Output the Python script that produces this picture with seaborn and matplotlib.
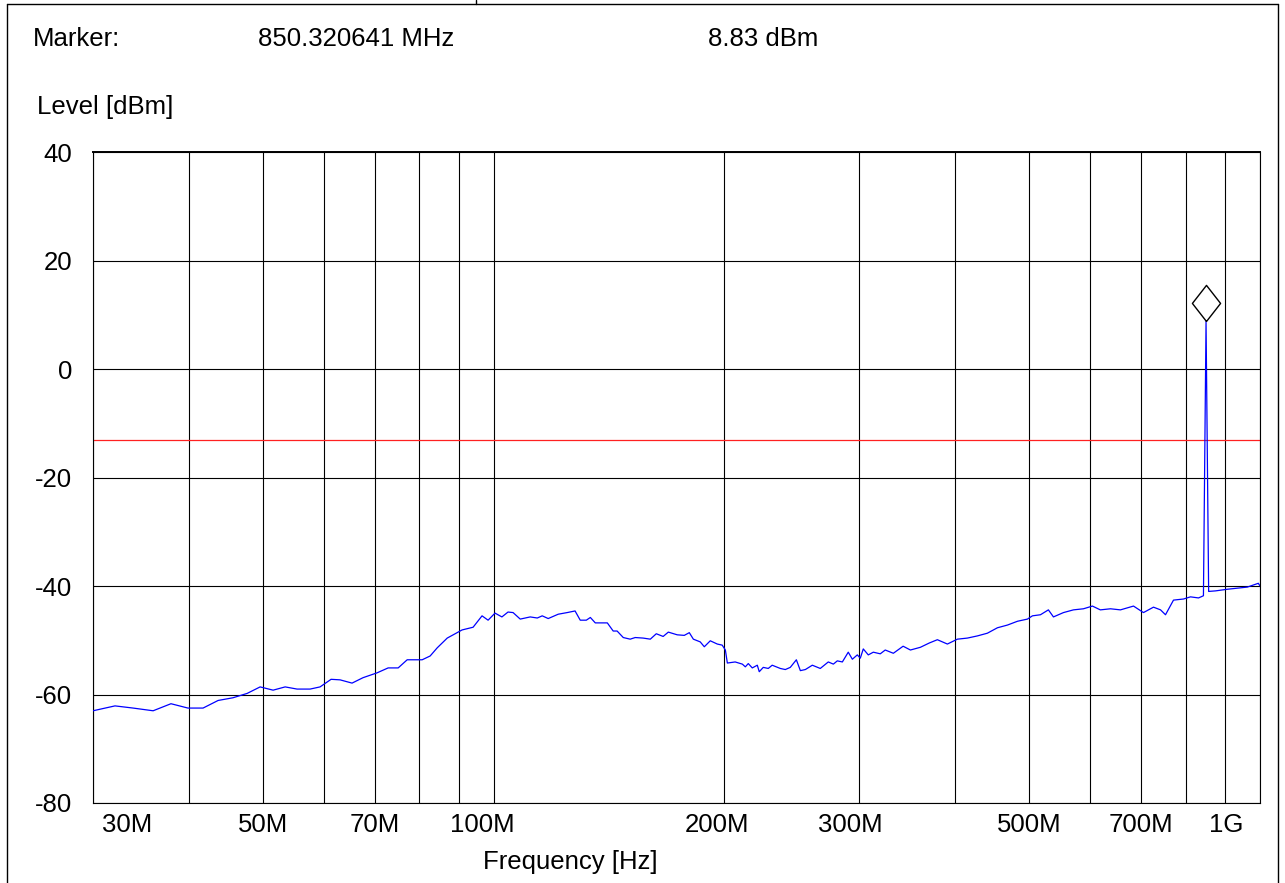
import numpy as np
import pandas as pd
import matplotlib
matplotlib.use("Agg")
import matplotlib.pyplot as plt
import matplotlib.transforms as mtransforms
from matplotlib.lines import Line2D
import seaborn as sns

# ---------------- data ----------------
freq_mhz = [30.0, 32.05, 33.84, 35.94, 37.92, 39.90, 41.76, 43.69, 45.69, 47.67,
            49.57, 51.54, 53.44, 55.39, 57.60, 59.35, 61.35, 63.03, 65.34, 67.53,
            70.46, 72.82, 75.05, 77.11, 80.66, 82.62, 84.39, 86.97, 88.54, 90.94,
            94.00, 96.56, 98.33, 100.4, 102.5, 104.4, 106.0, 108.3, 111.6, 114.0,
            115.7, 117.8, 121.4, 124.7, 127.7, 129.7, 132.1, 133.7, 135.7, 140.7,
            143.2, 144.9, 147.6, 150.7, 153.0, 156.7, 160.1, 163.0, 166.4, 169.0,
            173.6, 177.3, 180.0, 182.2, 186.0, 188.3, 191.7, 195.8, 198.7, 200.6,
            201.8, 206.6, 211.1, 213.0, 214.9, 217.5, 220.8, 222.1, 224.8, 228.2,
            230.9, 236.6, 240.2, 243.8, 248.3, 251.3, 255.1, 260.5, 266.8, 273.3,
            277.5, 280.8, 285.1, 290.2, 293.8, 298.2, 300.9, 303.6, 308.2, 312.9,
            319.5, 324.3, 332.3, 342.2, 349.8, 360.4, 370.3, 379.3, 390.9, 402.8,
            415.1, 427.8, 440.8, 454.3, 468.2, 482.5, 497.2, 504.7, 517.0, 529.5,
            537.6, 554.0, 570.9, 588.3, 604.4, 618.9, 638.1, 657.5, 683.8, 704.6,
            726.1, 741.7, 752.8, 771.1, 794.6, 811.5, 831.3, 843.7, 850.320641,
            857.0, 874.9, 906.6, 934.2, 962.7, 995.0, 1000.0]
level_dbm = [-63.0, -62.1, -62.5, -63.0, -61.7, -62.5, -62.5, -61.1, -60.6, -59.8,
             -58.6, -59.2, -58.6, -59.0, -59.0, -58.6, -57.2, -57.3, -57.9, -56.9,
             -56.0, -55.1, -55.1, -53.6, -53.6, -52.9, -51.4, -49.6, -49.0, -48.1,
             -47.6, -45.5, -46.3, -45.0, -45.7, -44.8, -44.9, -46.1, -45.7, -45.9,
             -45.5, -46.0, -45.2, -44.9, -44.6, -46.3, -46.3, -45.8, -46.8, -46.8,
             -48.3, -48.3, -49.5, -49.8, -49.5, -49.6, -49.8, -48.8, -49.3, -48.5,
             -49.0, -49.1, -48.6, -49.8, -50.3, -51.2, -50.1, -50.7, -50.9, -51.8,
             -54.2, -54.0, -54.4, -54.9, -54.3, -55.1, -54.6, -55.8, -55.0, -55.2,
             -54.6, -55.2, -55.4, -55.0, -53.6, -55.6, -55.4, -54.6, -55.2, -54.0,
             -54.4, -53.8, -54.0, -52.2, -53.5, -52.7, -53.3, -51.6, -52.7, -52.2,
             -52.5, -51.8, -52.4, -51.1, -51.8, -51.3, -50.5, -49.9, -50.7, -49.8,
             -49.6, -49.2, -48.7, -47.7, -47.2, -46.5, -46.1, -45.5, -45.3, -44.4,
             -45.7, -44.9, -44.4, -44.2, -43.7, -44.4, -44.2, -44.4, -43.7, -44.9,
             -43.9, -44.4, -45.3, -42.6, -42.4, -42.0, -42.2, -41.8, 8.83,
             -41.0, -40.9, -40.6, -40.4, -40.2, -39.5, -40.0]

marker_freq = 850.320641
marker_level = 8.83
limit_level = -13.0

x_ticks = [30, 40, 50, 60, 70, 80, 90, 100, 200, 300, 400, 500, 600, 700, 800, 900, 1000]
x_labels = ["30M", "", "50M", "", "70M", "", "", "100M", "200M", "300M", "",
            "500M", "", "700M", "", "", "1G"]
x_label_shift_px = [34, 0, 0, 0, 0, 0, 0, -11, -7, -9, 0, 0, 0, 0, 0, 0, -34]
y_ticks = [-80, -60, -40, -20, 0, 20, 40]
y_labels = ["-80", "-60", "-40", "-20", "0", "20", "40"]

# ---------------- style ----------------
sns.set_style("white")
plt.rcParams["font.family"] = ["Liberation Sans", "DejaVu Sans"]
plt.rcParams["text.color"] = "black"
plt.rcParams["xtick.color"] = "black"
plt.rcParams["ytick.color"] = "black"
FS = 18.5

W, H = 1285, 883
fig = plt.figure(figsize=(W / 100, H / 100), dpi=100)
fig.patch.set_facecolor("white")

L, R, T, B = 93, 1260, 152, 803
ax = fig.add_axes([L / W, 1 - B / H, (R - L) / W, (B - T) / H])
ax.set_facecolor("white")

df = pd.DataFrame({"freq": freq_mhz, "level": level_dbm})
sns.lineplot(data=df, x="freq", y="level", ax=ax, color="#0000ff",
             linewidth=0.9, sort=False, estimator=None, zorder=3)

# limit line
ax.axhline(limit_level, color="#ff2020", linewidth=0.9, zorder=2)

# marker diamond with bottom vertex at the peak
diamond = [(0, 0), (0.78, 1), (0, 2), (-0.78, 1), (0, 0)]
ax.plot([marker_freq], [marker_level], linestyle="none", marker=diamond,
        markersize=52, markerfacecolor="white", markeredgecolor="black",
        markeredgewidth=1.0, zorder=4)

ax.set_xscale("log")
ax.set_xlim(30, 1000)
ax.set_ylim(-80, 40)
ax.xaxis.set_minor_locator(matplotlib.ticker.NullLocator())
ax.set_xticks(x_ticks)
ax.set_xticklabels(x_labels)
ax.set_yticks(y_ticks)
ax.set_yticklabels(y_labels)
ax.tick_params(axis="both", length=0, labelsize=FS, colors="black", labelcolor="black")
ax.tick_params(axis="x", pad=7)
ax.tick_params(axis="y", pad=15)
ax.grid(True, color="black", linewidth=0.8)
ax.set_xlabel("")
ax.set_ylabel("")
for s in ax.spines.values():
    s.set_color("black")
    s.set_linewidth(0.8)
ax.spines["top"].set_linewidth(1.4)

for lab, dx in zip(ax.get_xticklabels(), x_label_shift_px):
    lab.set_transform(lab.get_transform() +
                      mtransforms.ScaledTranslation(dx / 100, 0, fig.dpi_scale_trans))

# ---------------- header / labels ----------------
def fx(x):
    return x / W

def fy(y):
    return 1 - y / H

fig.text(fx(33), fy(46), "Marker:", fontsize=FS, va="baseline", ha="left", color="black")
fig.text(fx(258), fy(46), "850.320641 MHz", fontsize=FS, va="baseline", ha="left", color="black")
fig.text(fx(708), fy(46), "8.83 dBm", fontsize=FS, va="baseline", ha="left", color="black")
fig.text(fx(37), fy(114), "Level [dBm]", fontsize=FS, va="baseline", ha="left", color="black")
fig.text(fx(483), fy(869), "Frequency [Hz]", fontsize=FS, va="baseline", ha="left", color="black")

# outer frame
fig.add_artist(Line2D([fx(7), fx(7)], [fy(4), fy(883)], color="black", lw=1.0,
                      transform=fig.transFigure))
fig.add_artist(Line2D([fx(7), fx(1278)], [fy(4), fy(4)], color="black", lw=1.0,
                      transform=fig.transFigure))
fig.add_artist(Line2D([fx(1278), fx(1278)], [fy(4), fy(883)], color="black", lw=1.0,
                      transform=fig.transFigure))
fig.add_artist(Line2D([fx(476), fx(476)], [fy(0), fy(4)], color="black", lw=1.0,
                      transform=fig.transFigure))

fig.savefig("out.png", dpi=100, facecolor="white")
